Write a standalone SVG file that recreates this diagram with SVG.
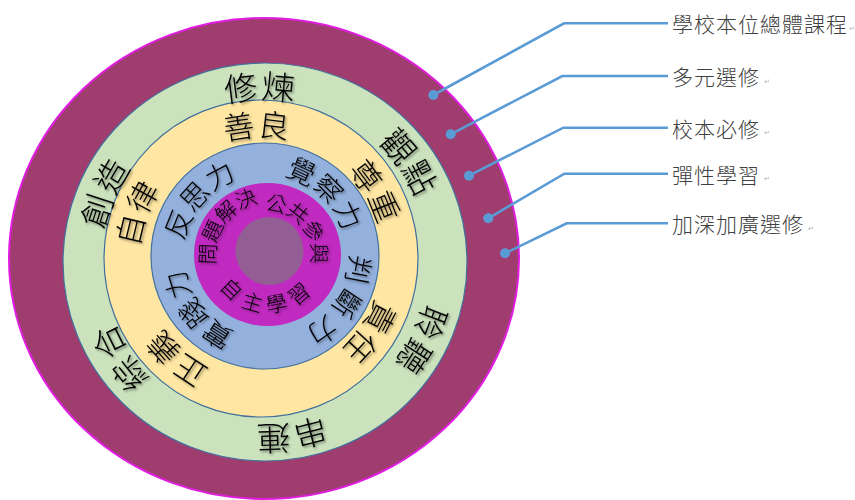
<svg xmlns="http://www.w3.org/2000/svg" width="855" height="500" viewBox="0 0 855 500">
<style>
.ring{stroke:#41719C;stroke-width:1.2}
.rt{font-family:"Noto Sans CJK TC","Noto Sans CJK SC",sans-serif;font-weight:300;fill:#000;dominant-baseline:central;text-anchor:middle;filter:url(#sh)}
.g{font-size:33px;letter-spacing:5px}
.y{font-size:31px;letter-spacing:5px}
.b{font-size:28px;letter-spacing:5px}
.m{font-size:21px;letter-spacing:3px}
.lbl{font-family:"Noto Sans CJK TC","Noto Sans CJK SC",sans-serif;font-size:21px;letter-spacing:1px;fill:#404040;dominant-baseline:central;font-weight:300}
.pm{font-family:"DejaVu Sans",sans-serif;font-size:7px;fill:#b0b0b0}
.con{fill:none;stroke:#5B9BD5;stroke-width:2.6}
.dot{fill:#5B9BD5}
</style>
<defs>
<filter id="sh" x="-20%" y="-20%" width="140%" height="140%">
<feDropShadow dx="1.5" dy="1.5" stdDeviation="1" flood-color="#000" flood-opacity="0.45"/>
</filter>
<path id="p1" d="M87.03,265.11 A178,178 0 0 1 442.97,258.89"/>
<path id="p2" d="M165.46,114.43 A178,178 0 0 1 364.54,409.57"/>
<path id="p3" d="M345.81,103.40 A178,178 0 0 1 184.19,420.60"/>
<path id="p4" d="M441.27,237.23 A178,178 0 0 1 88.73,286.77"/>
<path id="p5" d="M360.64,412.12 A178,178 0 0 1 169.36,111.88"/>
<path id="p6" d="M192.60,424.61 A178,178 0 0 1 337.40,99.39"/>
<path id="q1" d="M125.02,260.87 A136,136 0 0 1 396.98,256.13"/>
<path id="q2" d="M194.03,140.13 A136,136 0 0 1 327.97,376.87"/>
<path id="q3" d="M339.01,147.10 A136,136 0 0 1 182.99,369.90"/>
<path id="q4" d="M363.64,347.72 A136,136 0 0 1 158.36,169.28"/>
<path id="q5" d="M212.26,385.47 A136,136 0 0 1 309.74,131.53"/>
<path id="r1" d="M202.10,325.86 A94,94 0 0 1 327.90,186.14"/>
<path id="r2" d="M198.53,189.53 A94,94 0 0 1 331.47,322.47"/>
<path id="r3" d="M317.29,175.49 A96,96 0 0 1 212.71,336.51"/>
<path id="r4" d="M321.57,331.07 A94,94 0 0 1 208.43,180.93"/>
<path id="s1" d="M231.35,304.25 A61.5,61.5 0 0 1 303.65,204.75"/>
<path id="s2" d="M234.15,213.31 A53,53 0 0 1 300.85,295.69"/>
<path id="s3" d="M218.53,252.79 A49,49 0 0 0 316.47,256.21"/>
</defs>
<rect width="855" height="500" fill="#fff"/>
<g id="outer">
<ellipse cx="264" cy="258.5" rx="255" ry="240.5" fill="#A03D6F" stroke="#E21DE2" stroke-width="2"/>
</g>
<g id="green-ring">
<ellipse class="ring" cx="265" cy="262" rx="202" ry="199" fill="#CBE2BD"/>
</g>
<g id="yellow-ring">
<ellipse class="ring" cx="261" cy="258.5" rx="157" ry="158.5" fill="#FFE6A2"/>
</g>
<g id="blue-ring">
<ellipse class="ring" cx="265" cy="256" rx="114" ry="113" fill="#94B1DE"/>
</g>
<g id="magenta-ring">
<ellipse cx="267.5" cy="254.5" rx="73.5" ry="71.5" fill="#C02AC0"/>
</g>
<g id="core">
<circle cx="269.5" cy="251" r="34" fill="#935E93"/>
</g>
<g id="green-texts">
<text class="rt g"><textPath href="#p1" startOffset="50%">修煉</textPath></text>
<text class="rt g"><textPath href="#p2" startOffset="50%">觀點</textPath></text>
<text class="rt g"><textPath href="#p3" startOffset="50%">聆聽</textPath></text>
<text class="rt g"><textPath href="#p4" startOffset="50%">串連</textPath></text>
<text class="rt g"><textPath href="#p5" startOffset="50%">綜合</textPath></text>
<text class="rt g"><textPath href="#p6" startOffset="50%">創造</textPath></text>
</g>
<g id="yellow-texts">
<text class="rt y"><textPath href="#q1" startOffset="50%">善良</textPath></text>
<text class="rt y"><textPath href="#q2" startOffset="50%">尊重</textPath></text>
<text class="rt y"><textPath href="#q3" startOffset="50%">責任</textPath></text>
<text class="rt y"><textPath href="#q4" startOffset="50%">正義</textPath></text>
<text class="rt y"><textPath href="#q5" startOffset="50%">自律</textPath></text>
</g>
<g id="blue-texts">
<text class="rt b"><textPath href="#r1" startOffset="50%">反思力</textPath></text>
<text class="rt b"><textPath href="#r2" startOffset="50%">覺察力</textPath></text>
<text class="rt b" style="letter-spacing:9px"><textPath href="#r3" startOffset="50%">判斷力</textPath></text>
<text class="rt b"><textPath href="#r4" startOffset="50%">實踐力</textPath></text>
</g>
<g id="magenta-texts">
<text class="rt m"><textPath href="#s1" startOffset="50%">問題解決</textPath></text>
<text class="rt m"><textPath href="#s2" startOffset="50%">公共參與</textPath></text>
<text class="rt m"><textPath href="#s3" startOffset="50%">自主學習</textPath></text>
</g>
<g id="connectors">
<polyline class="con" points="433.3,95 564,23.3 668,23.3"/>
<polyline class="con" points="450.7,134.3 562.3,76 668,76"/>
<polyline class="con" points="469,175.7 563.3,127.7 668,127.7"/>
<polyline class="con" points="488.3,218.3 564.3,173.7 668,173.7"/>
<polyline class="con" points="505,253.3 566.7,223.3 668,223.3"/>
<circle class="dot" cx="433.3" cy="95" r="5"/>
<circle class="dot" cx="450.7" cy="134.3" r="5"/>
<circle class="dot" cx="469" cy="175.7" r="5"/>
<circle class="dot" cx="488.3" cy="218.3" r="5"/>
<circle class="dot" cx="505" cy="253.3" r="5"/>
</g>
<g id="label-1"><text class="lbl" x="672" y="23.3">學校本位總體課程</text><text class="pm" x="849" y="31">↵</text></g>
<g id="label-2"><text class="lbl" x="672" y="76">多元選修</text><text class="pm" x="764" y="84">↵</text></g>
<g id="label-3"><text class="lbl" x="672" y="127.7">校本必修</text><text class="pm" x="764" y="135">↵</text></g>
<g id="label-4"><text class="lbl" x="672" y="173.7">彈性學習</text><text class="pm" x="764" y="181">↵</text></g>
<g id="label-5"><text class="lbl" x="672" y="223.3">加深加廣選修</text><text class="pm" x="808" y="231">↵</text></g>
</svg>
